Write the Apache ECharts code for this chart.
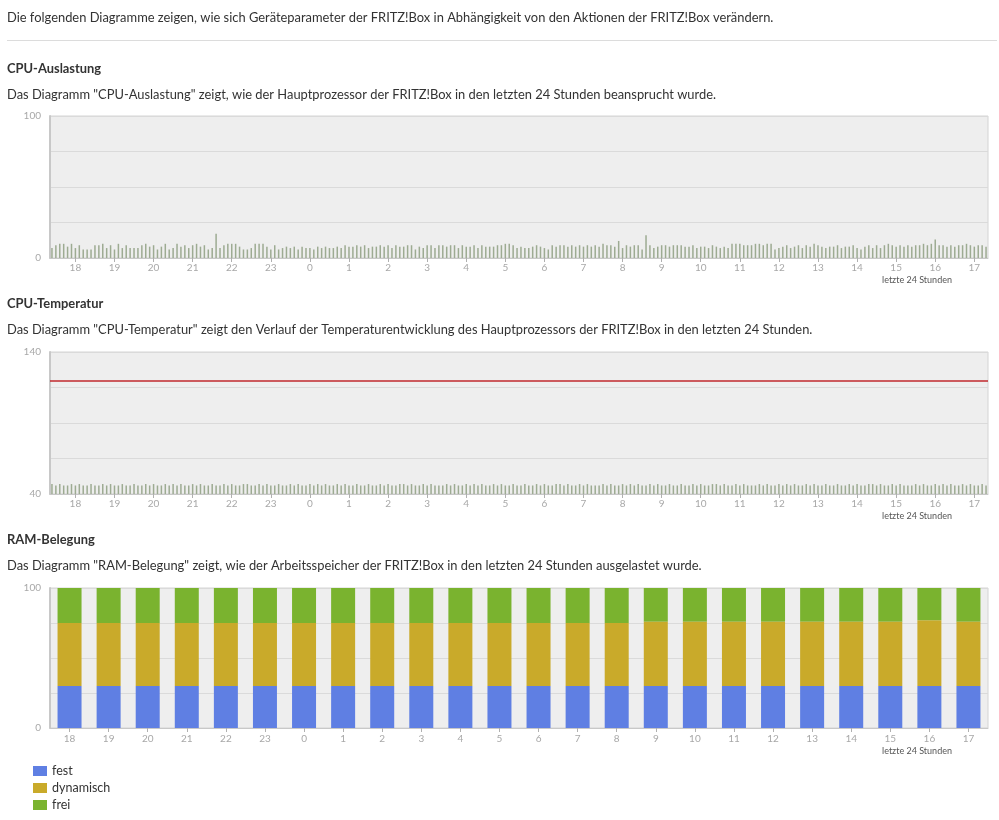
<!DOCTYPE html>
<html>
<head>
<meta charset="utf-8">
<script src="https://cdn.jsdelivr.net/npm/echarts@6/dist/echarts.min.js"></script>
<style>
html,body{margin:0;padding:0;background:#fff;}
#c{width:999px;height:820px;}
</style>
</head>
<body>
<div id="c"></div>
<script>
// ---- data ----
const cpuLoad = [
  7,9,10,10,8,10,7,9,6,6,
  6,9,9,10,7,9,6,10,7,9,
  7,7,7,9,10,8,9,6,8,10,
  6,7,10,8,9,7,9,10,8,9,
  6,7,17,7,9,10,10,10,8,6,
  6,7,10,10,10,8,6,9,6,7,
  8,7,8,6,8,7,7,6,8,7,
  8,7,7,8,7,9,8,8,9,8,
  9,7,8,8,9,8,9,7,9,8,
  8,9,9,6,8,7,9,9,7,9,
  9,8,9,9,7,9,8,8,9,7,
  9,8,8,8,9,9,10,10,9,7,
  8,7,7,8,9,8,7,6,9,8,
  9,9,8,9,8,9,8,9,8,9,
  8,10,9,9,8,12,7,9,8,9,
  9,6,16,9,7,8,9,9,8,9,
  9,9,8,8,9,7,8,8,7,9,
  8,7,8,7,10,10,10,9,9,9,
  10,10,9,10,10,6,7,8,9,7,
  8,9,7,9,8,10,9,8,7,8,
  8,9,7,8,8,9,7,6,8,9,
  7,9,7,9,10,9,8,9,8,9,
  8,9,9,10,9,10,13,9,9,8,
  9,8,9,9,10,9,8,9,9,8
];
const cpuTemp = [
  47,46,47,46,46,47,46,47,46,46,
  47,46,46,47,46,47,46,46,47,46,
  46,47,46,46,47,46,47,46,46,47,
  46,47,46,47,46,46,47,46,47,46,
  46,47,46,46,47,46,47,46,46,47,
  47,46,46,47,46,47,46,46,47,46,
  46,47,46,47,46,46,47,46,47,46,
  47,46,46,47,46,47,46,46,47,46,
  46,47,46,46,47,46,47,46,46,47,
  47,46,47,46,46,47,46,47,46,46,
  46,47,46,47,46,46,47,46,47,46,
  47,46,46,47,46,47,46,46,47,46,
  46,47,46,46,47,46,47,46,46,47,
  47,46,47,46,46,47,46,47,46,46,
  46,47,46,47,46,46,47,46,47,46,
  47,46,46,47,46,47,46,46,47,46,
  46,47,46,46,47,46,47,46,46,47,
  47,46,47,46,46,47,46,47,46,46,
  46,47,46,47,46,46,47,46,47,46,
  47,46,46,47,46,47,46,46,47,46,
  46,47,46,46,47,46,47,46,46,47,
  47,46,47,46,46,47,46,47,46,46,
  46,47,46,47,46,46,47,46,47,46,
  47,46,46,47,46,47,46,46,47,46
];
const tempLevel = 120;
const ramHours = ['18','19','20','21','22','23','0','1','2','3','4','5','6','7','8','9','10','11','12','13','14','15','16','17'];
const ramFest = [30,30,30,30,30,30,30,30,30,30,30,30,30,30,30,30,30,30,30,30,30,30,30,30];
const ramDyn  = [45,45,45,45,45,45,45,45,45,45,45,45,45,45,45,46,46,46,46,46,46,46,47,46];
const ramFrei = [25,25,25,25,25,25,25,25,25,25,25,25,25,25,25,24,24,24,24,24,24,24,23,24];

// time slots (6-minute samples starting 17:24)
const cpuSlots = [];
for (let i = 0; i < cpuLoad.length; i++) {
  const t = (17 * 60 + 24 + 6 * i) % 1440;
  const h = Math.floor(t / 60), m = t % 60;
  cpuSlots.push(h + ':' + (m < 10 ? '0' + m : m));
}

const FONT = 'Lato, "Noto Sans", sans-serif';
const axisGray = '#c8c8c8';
const labelGray = '#a8a8a8';
const barGray = '#9dab92';
const onHour = (idx, val) => String(val).endsWith(':00');

function timeAxis(gi) {
  return {
    type: 'category', gridIndex: gi, data: cpuSlots, boundaryGap: true,
    axisLine: { show: true, lineStyle: { color: axisGray, width: 1 } },
    axisTick: { show: true, interval: onHour, alignWithLabel: true, length: 4, lineStyle: { color: '#b0b0b0' } },
    axisLabel: { interval: onHour, color: labelGray, fontSize: 10, fontFamily: FONT, margin: 5,
      formatter: v => String(parseInt(v.split(':')[0], 10)) },
    splitLine: { show: false }
  };
}
function valAxis(gi, mn, mx) {
  return {
    type: 'value', gridIndex: gi, min: mn, max: mx, interval: 25,
    axisLine: { show: true, lineStyle: { color: axisGray, width: 2 } },
    axisTick: { show: false },
    axisLabel: { color: labelGray, fontSize: 10, fontFamily: FONT, margin: 9,
      formatter: v => (v === mn || v === mx) ? String(v) : '' },
    splitLine: { show: true, lineStyle: { color: '#dadada', width: 1 } }
  };
}
const gridBase = { left: 50, right: 11, show: true, backgroundColor: '#eeeeee', borderColor: '#d4d4d4', borderWidth: 1, containLabel: false };

function txt(x, y, s, opts) {
  return Object.assign({ type: 'text', x: x, y: y, silent: true,
    style: Object.assign({ text: s, fontSize: 12.9, fontFamily: FONT, fill: '#333', verticalAlign: 'middle' }, opts || {}) });
}

const chart = echarts.init(document.getElementById('c'), null, { renderer: 'canvas' });
chart.setOption({
  animation: false,
  grid: [
    Object.assign({ top: 116, height: 142 }, gridBase),
    Object.assign({ top: 352, height: 142 }, gridBase),
    Object.assign({ top: 588, height: 140 }, gridBase)
  ],
  xAxis: [
    timeAxis(0),
    timeAxis(1),
    {
      type: 'category', gridIndex: 2, data: ramHours, boundaryGap: true,
      axisLine: { show: true, lineStyle: { color: axisGray, width: 1 } },
      axisTick: { show: true, alignWithLabel: true, length: 4, lineStyle: { color: '#b0b0b0' } },
      axisLabel: { interval: 0, color: labelGray, fontSize: 10, fontFamily: FONT, margin: 6 }
    }
  ],
  yAxis: [valAxis(0, 0, 100), valAxis(1, 40, 140), valAxis(2, 0, 100)],
  legend: {
    orient: 'vertical', left: 33, top: 764, padding: 0, height: 56, itemWidth: 14, itemHeight: 10, itemGap: 3,
    icon: 'rect', data: ['fest', 'dynamisch', 'frei'],
    textStyle: { fontSize: 12.5, fontFamily: FONT, color: '#333', lineHeight: 14 }
  },
  graphic: [
    txt(7, 18, 'Die folgenden Diagramme zeigen, wie sich Geräteparameter der FRITZ!Box in Abhängigkeit von den Aktionen der FRITZ!Box verändern.'),
    { type: 'line', silent: true, shape: { x1: 7, y1: 40.5, x2: 997, y2: 40.5 }, style: { stroke: '#dcdcdc', lineWidth: 1 } },
    txt(7, 69, 'CPU-Auslastung', { fontWeight: 'bold' }),
    txt(7, 95, 'Das Diagramm "CPU-Auslastung" zeigt, wie der Hauptprozessor der FRITZ!Box in den letzten 24 Stunden beansprucht wurde.'),
    txt(917, 280, 'letzte 24 Stunden', { fontSize: 9, fill: '#555', align: 'center' }),
    txt(7, 304, 'CPU-Temperatur', { fontWeight: 'bold' }),
    txt(7, 330, 'Das Diagramm "CPU-Temperatur" zeigt den Verlauf der Temperaturentwicklung des Hauptprozessors der FRITZ!Box in den letzten 24 Stunden.'),
    txt(917, 516, 'letzte 24 Stunden', { fontSize: 9, fill: '#555', align: 'center' }),
    txt(7, 540, 'RAM-Belegung', { fontWeight: 'bold' }),
    txt(7, 566, 'Das Diagramm "RAM-Belegung" zeigt, wie der Arbeitsspeicher der FRITZ!Box in den letzten 24 Stunden ausgelastet wurde.'),
    txt(917, 751, 'letzte 24 Stunden', { fontSize: 9, fill: '#555', align: 'center' })
  ],
  series: [
    { name: 'CPU', type: 'bar', xAxisIndex: 0, yAxisIndex: 0, data: cpuLoad, barWidth: 1.5,
      itemStyle: { color: barGray }, silent: true },
    { name: 'Temperatur', type: 'bar', xAxisIndex: 1, yAxisIndex: 1, data: cpuTemp, barWidth: 1.5,
      itemStyle: { color: barGray }, silent: true,
      markLine: { symbol: 'none', silent: true, label: { show: false },
        lineStyle: { color: '#c0282d', type: 'solid', width: 1.5 }, data: [{ yAxis: tempLevel }] } },
    { name: 'fest', type: 'bar', stack: 'ram', xAxisIndex: 2, yAxisIndex: 2, data: ramFest, barWidth: 24,
      itemStyle: { color: '#5f7fe3' } },
    { name: 'dynamisch', type: 'bar', stack: 'ram', xAxisIndex: 2, yAxisIndex: 2, data: ramDyn, barWidth: 24,
      itemStyle: { color: '#c9aa2a' } },
    { name: 'frei', type: 'bar', stack: 'ram', xAxisIndex: 2, yAxisIndex: 2, data: ramFrei, barWidth: 24,
      itemStyle: { color: '#7ab32f' } }
  ]
});
</script>
</body>
</html>
